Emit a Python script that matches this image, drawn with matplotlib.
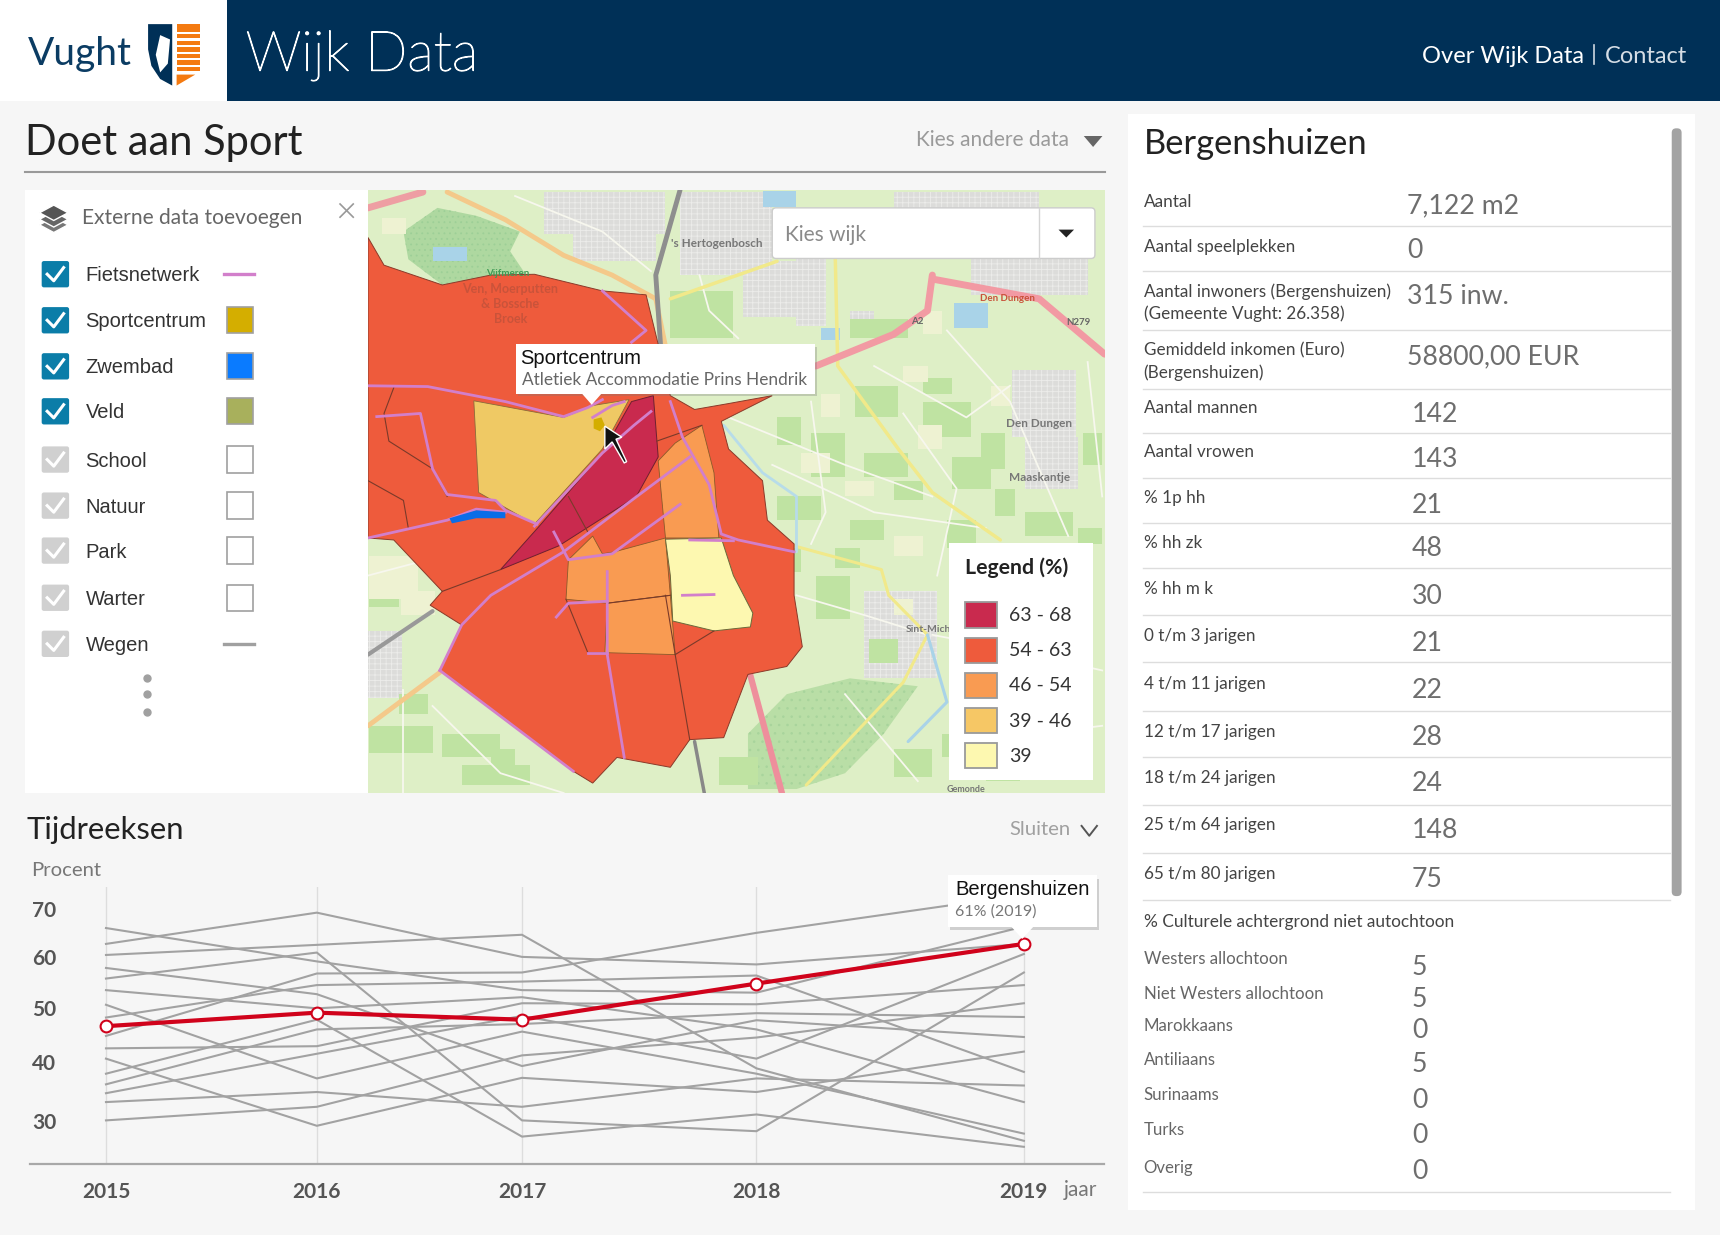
import numpy as np
import matplotlib
matplotlib.use("Agg")
import matplotlib.pyplot as plt
import matplotlib.patheffects as pe
from matplotlib.patches import Polygon, Rectangle, FancyBboxPatch

W, H = 1568, 1126
plt.rcParams["font.family"] = ["Lato", "DejaVu Sans"]
plt.rcParams["hatch.linewidth"] = 0.6

NAVY = "#003057"
GREY_TXT = "#6b6b6b"
PURPLE = "#d27fcb"

# time series, percent per year
YEARS = [2015, 2016, 2017, 2018, 2019]
GREY_SERIES = [
    [62.8, 69.3, 60.1, 58.6, 62.8],
    [66.1, 59.2, 53.5, 53.0, 66.4],
    [60.5, 62.6, 64.7, 38.9, 26.7],
    [57.9, 52.7, 39.3, 47.7, 44.6],
    [55.8, 61.0, 30.1, 28.3, 57.0],
    [53.5, 49.9, 52.1, 46.0, 33.2],
    [50.6, 37.2, 45.6, 38.0, 27.9],
    [48.2, 54.5, 55.2, 56.4, 38.3],
    [44.8, 56.8, 57.0, 65.1, 73.1],
    [42.5, 42.9, 50.9, 50.7, 54.5],
    [40.6, 29.2, 37.3, 34.9, 41.9],
    [38.0, 47.8, 27.4, 31.1, 25.7],
    [36.2, 46.0, 47.0, 49.0, 48.3],
    [34.7, 41.5, 48.5, 40.6, 60.7],
    [33.2, 34.9, 32.4, 37.2, 36.0],
    [30.1, 32.4, 41.2, 44.5, 50.9],
]
BERGENSHUIZEN = [46.6, 49.1, 47.8, 54.8, 62.8]
Y_TICKS = [30, 40, 50, 60, 70]

# right hand table
ROW_LABELS = ["Aantal", "Aantal speelplekken",
              "Aantal inwoners (Bergenshuizen)\n(Gemeente Vught: 26.358)",
              "Gemiddeld inkomen (Euro)\n(Bergenshuizen)",
              "Aantal mannen", "Aantal vrowen", "% 1p hh", "% hh zk", "% hh m k",
              "0 t/m 3 jarigen", "4 t/m 11 jarigen", "12 t/m 17 jarigen",
              "18 t/m 24 jarigen", "25 t/m 64 jarigen", "65 t/m 80 jarigen"]
ROW_VALUES = ["7,122 m2", "0", "315 inw.", "58800,00 EUR", "142", "143", "21", "48",
              "30", "21", "22", "28", "24", "148", "75"]
ROW_Y = [183, 224, 275, 329, 371, 411, 453, 494, 536, 579, 623, 666, 708, 751, 796]
VALUE_Y = [186, 227, 269, 324, 376, 417, 459, 499, 542, 585, 628, 671, 713, 756, 800]
SEP_Y = [206, 247, 301, 355, 395, 436, 477, 518, 561, 604, 648, 690, 734, 778, 821]
BG_LABELS = ["Westers allochtoon", "Niet Westers allochtoon", "Marokkaans", "Antiliaans",
             "Surinaams", "Turks", "Overig"]
BG_VALUES = ["5", "5", "0", "5", "0", "0", "0"]
BG_LABEL_Y = [874, 906, 935, 966, 998, 1030, 1064]
BG_VALUE_Y = [880, 909, 938, 969, 1001, 1033, 1066]

# layer list
LAYER_NAMES = ["Fietsnetwerk", "Sportcentrum", "Zwembad", "Veld", "School", "Natuur",
               "Park", "Warter", "Wegen"]
LAYER_Y = [250, 292, 334, 375, 419, 461, 502, 545, 587]
LAYER_ON = [True, True, True, True, False, False, False, False, False]
LAYER_SWATCH = ["line:" + PURPLE, "#d4ae00", "#0a7bff", "#a8b05c", "white", "white", "white",
                "white", "line:#a0a0a0"]

# map legend
LEGEND_LABELS = ["63 - 68", "54 - 63", "46 - 54", "39 - 46", "39"]
LEGEND_COLORS = ["#c92a4e", "#ee5b3c", "#f99b52", "#f6c765", "#fdf8b0"]

# map shapes, traced in map units
MUNICIPALITY = [(17, 145), (50, 215), (170, 265), (270, 240), (360, 238), (500, 280), (590, 290),
                (612, 400), (640, 545), (690, 580), (760, 565), (850, 545), (745, 610), (760, 680),
                (830, 760), (840, 860), (895, 920), (895, 1050), (912, 1180), (880, 1230),
                (800, 1250), (750, 1410), (680, 1415), (640, 1485), (530, 1460), (480, 1525),
                (440, 1495), (300, 1365), (165, 1240), (210, 1125), (145, 1075), (170, 1040),
                (70, 910), (17, 905)]
WIJK_YELLOW = [(235, 558), (420, 600), (480, 570), (555, 555), (500, 680), (360, 870), (245, 790)]
WIJK_DARK = [(605, 545), (615, 700), (570, 800), (410, 925), (290, 985), (370, 875), (500, 690),
             (560, 560)]
WIJK_ORANGE = [[(705, 620), (730, 740), (740, 905), (630, 905), (615, 710), (650, 665)],
               [(480, 900), (500, 945), (525, 940), (630, 905), (640, 1050), (510, 1070),
                (425, 1060), (430, 960)],
               [(510, 1070), (640, 1050), (650, 1200), (505, 1195)]]
WIJK_PALE = [(630, 908), (745, 905), (770, 1000), (810, 1095), (805, 1130), (730, 1140),
             (645, 1115), (640, 1000)]
SWIM_WATER = [(185, 855), (240, 835), (300, 840), (300, 855), (240, 855), (190, 868)]
SPORT_SPOT = [(482, 605), (498, 600), (505, 620), (495, 635), (482, 628)]
BORDERS = [[(70, 525), (50, 590), (60, 660), (150, 730), (180, 800)],
           [(17, 760), (90, 810), (100, 880)],
           [(630, 1050), (650, 1200), (680, 1415)],
           [(170, 1040), (290, 985)],
           [(425, 1060), (470, 1195), (505, 1195)],
           [(510, 1070), (640, 1050)],
           [(650, 1200), (730, 1140)],
           [(430, 800), (470, 890)],
           [(612, 660), (705, 620)]]
BIKE_PATHS = [[(17, 520), (140, 522), (300, 560), (420, 598), (470, 575), (500, 555)],
              [(500, 280), (590, 380), (560, 410)],
              [(35, 598), (125, 590), (150, 730), (180, 795), (280, 810), (300, 835), (365, 870)],
              [(17, 905), (180, 860), (240, 832), (300, 840)],
              [(165, 1240), (210, 1125), (270, 1050), (420, 940), (560, 810), (680, 700)],
              [(360, 875), (500, 690), (565, 620), (600, 585)],
              [(400, 890), (430, 960), (520, 945), (660, 820)],
              [(640, 560), (665, 650), (720, 770), (745, 895), (780, 910), (895, 940)],
              [(680, 910), (770, 912)],
              [(510, 990), (510, 1200), (545, 1460)],
              [(405, 1105), (430, 1070), (510, 1065)],
              [(470, 1195), (510, 1195)],
              [(165, 1240), (300, 1365), (440, 1495)],
              [(665, 1050), (730, 1048)],
              [(480, 600), (520, 570), (545, 560)]]
FOREST = [(90, 130), (160, 70), (240, 90), (330, 130), (310, 180), (340, 235), (270, 240), (170, 265), (100, 200)]
FOREST_SOUTH = [(880, 1300), (1010, 1260), (1150, 1280), (1080, 1400), (1000, 1500), (900, 1540), (800, 1540), (800, 1400)]
GREEN_BLOCKS = [(1020, 520, 90, 80), (1160, 560, 100, 90), (930, 640, 70, 110), (1040, 690, 90, 60),
                (1220, 700, 80, 80), (860, 800, 90, 60), (1010, 860, 70, 50), (1210, 860, 60, 70),
                (1370, 840, 100, 60), (940, 1000, 70, 110), (1050, 1160, 60, 60), (1230, 1290, 120, 70),
                (1360, 1380, 120, 90), (20, 1380, 130, 70), (170, 1400, 120, 60), (210, 1480, 140, 50),
                (1100, 1440, 80, 70), (1160, 500, 60, 40), (1280, 640, 50, 90), (740, 1460, 80, 70),
                (20, 1010, 60, 70), (640, 280, 130, 120), (1250, 1120, 90, 60), (1400, 1000, 100, 110),
                (1010, 350, 120, 50), (860, 600, 50, 70), (1100, 760, 60, 50), (1310, 780, 40, 70),
                (1490, 640, 40, 80), (1480, 880, 50, 40), (980, 930, 50, 50), (1290, 1440, 70, 80),
                (1200, 1400, 60, 60), (80, 1300, 60, 50), (270, 1440, 50, 50), (870, 930, 40, 60)]
PALE_BLOCKS = [(45, 95, 50, 40), (910, 690, 60, 50), (1150, 620, 50, 60), (1100, 900, 60, 50),
               (20, 950, 100, 110), (85, 1040, 70, 60), (1300, 520, 40, 50), (1240, 1000, 60, 60),
               (1160, 330, 40, 60), (800, 1040, 60, 70), (1000, 760, 60, 40), (1120, 470, 50, 40),
               (1420, 1290, 60, 50), (1100, 1060, 40, 40), (950, 540, 40, 60)]
URBAN_BLOCKS = [(380, 30, 250, 105), (440, 135, 170, 70), (660, 30, 190, 210), (790, 205, 130, 140),
                (900, 200, 60, 170), (1260, 180, 240, 110), (1345, 480, 130, 170), (1370, 650, 110, 130),
                (1040, 1040, 150, 220), (17, 1140, 70, 170), (1100, 30, 300, 40), (1010, 330, 50, 40)]
WATER_BLOCKS = [(150, 170, 70, 35), (1225, 310, 70, 65), (830, 28, 70, 40), (950, 375, 40, 30)]
MINOR_ROADS = [[(760, 600), (1000, 720), (1180, 800)], [(850, 720), (1060, 840), (1290, 880)],
               [(930, 560), (960, 840), (930, 920)], [(1210, 380), (1340, 560), (1460, 900)],
               [(1060, 470), (1250, 600), (1340, 520)], [(1120, 590), (1230, 780), (1190, 1000)],
               [(900, 1050), (1040, 1100), (1170, 1150)], [(1180, 1150), (1350, 1190), (1530, 1240)],
               [(1220, 1250), (1400, 1400), (1530, 1380)], [(90, 1290), (90, 1550)],
               [(150, 1330), (290, 1500), (420, 1550)], [(17, 1000), (140, 960)],
               [(700, 240), (720, 330), (780, 400)], [(1000, 1300), (1150, 1520)],
               [(1500, 460), (1530, 800)], [(320, 40), (500, 130), (600, 230)]]
ROADS = [([(17, 70), (130, 30)], "#ee9ea3", 5),
         ([(180, 30), (300, 100), (420, 190), (520, 240), (610, 300), (640, 480)], "#f4c98a", 3.5),
         ([(660, 25), (610, 240), (620, 420)], "#8e8e8e", 3.5),
         ([(640, 300), (860, 205)], "#f1e98a", 2.5),
         ([(980, 200), (985, 470), (1110, 680), (1180, 790), (1320, 910)], "#f1e98a", 2.5),
         ([(1180, 240), (1170, 330), (1100, 390), (940, 470)], "#f29aa3", 5),
         ([(1180, 250), (1400, 300), (1535, 440)], "#f29aa3", 5),
         ([(800, 1230), (870, 1550)], "#ee8f9c", 4.5),
         ([(690, 1420), (710, 1550)], "#888888", 2.5),
         ([(895, 925), (1075, 985), (1090, 1050), (1170, 1150), (1120, 1270), (920, 1530)], "#f1e98a", 2.2),
         ([(17, 1200), (150, 1090)], "#999999", 3),
         ([(17, 1380), (165, 1245)], "#f4c98a", 3.5),
         ([(750, 620), (830, 740), (900, 800), (900, 940)], "#b7dce9", 2),
         ([(1170, 1150), (1210, 1320), (1130, 1420)], "#a9d3e8", 2.2)]
MAP_LABELS = [("'s Hertogenbosch", 735, 160, 8.5, "#777777"), ("Den Dungen", 1400, 615, 8.5, "#777777"),
              ("Maaskantje", 1400, 752, 8.5, "#777777"), ("Ven, Moerputten", 310, 275, 9, "#c9533a"),
              ("& Bossche", 310, 312, 9, "#c9533a"), ("Broek", 310, 350, 9, "#c9533a"),
              ("N279", 1480, 360, 7, "#666666"), ("A2", 1148, 358, 7, "#666666"),
              ("Sint-Mich", 1172, 1137, 7.5, "#777777"), ("Den Dungen", 1335, 300, 7, "#c9533a"),
              ("Vijfmeren", 305, 237, 7, "#3f9a55"), ("Gemonde", 1250, 1540, 6.5, "#777777")]


def ax_at(x0, y0, x1, y1, **kw):
    return fig.add_axes([x0 / W, 1 - y1 / H, (x1 - x0) / W, (y1 - y0) / H], **kw)


def box(ax, x0, y0, x1, y1, fc, ec="none", lw=0, z=1, pad=0.0):
    if pad:
        p = FancyBboxPatch((x0, y0), x1 - x0, y1 - y0, boxstyle=f"round,pad=0,rounding_size={pad}",
                           fc=fc, ec=ec, lw=lw, zorder=z)
    else:
        p = Rectangle((x0, y0), x1 - x0, y1 - y0, fc=fc, ec=ec, lw=lw, zorder=z)
    ax.add_patch(p)
    return p


def put(x, y, s, **kw):
    # Lato sits a little high when centred
    return bg.text(x, y + 2, s, va="center", **kw)


fig = plt.figure(figsize=(17.2, 12.35), dpi=100, facecolor="#f6f6f6")

# page furniture lives in one axes in screen units
bg = ax_at(0, 0, W, H)
bg.set_xlim(0, W); bg.set_ylim(H, 0); bg.axis("off")

box(bg, 207, 0, W, 92, NAVY)
box(bg, 0, 0, 207, 92, "white")
put(25, 47.5, "Vught", fontsize=28, color="#0b3c63")
t = put(224, 48.5, "Wijk Data", fontsize=40, color="white", fontweight="light")
t.set_path_effects([pe.withStroke(linewidth=0.8, foreground="white")])
put(1296, 49.5, "Over Wijk Data", fontsize=17, color="white")
bg.plot([1453, 1453], [41, 58], color="#cfd8e0", lw=1.2)
put(1463, 49.5, "Contact", fontsize=17, color="#d5dde5")
# shield
bg.add_patch(Polygon([(135, 22), (157, 22), (157, 78), (146, 72), (138, 60), (135, 45)], fc=NAVY))
for yy in (22, 31, 37, 43, 49, 55, 61):
    box(bg, 161, yy, 182, yy + (7 if yy == 22 else 4), "#f47a10", z=2)
bg.add_patch(Polygon([(161, 68), (178, 68), (161, 78)], fc="#f47a10", zorder=2))
bg.add_patch(Polygon([(146, 32), (155, 36), (153, 58), (146, 66), (142, 50)], fc="white", zorder=2))

put(23, 128.5, "Doet aan Sport", fontsize=30, color="#222222")
put(835, 126, "Kies andere data", fontsize=15, color="#9a9a9a")
bg.add_patch(Polygon([(988, 124), (1005, 124), (996.5, 134)], fc="#666666"))
bg.plot([23, 1007], [157, 157], color="#999999", lw=1.5)

# layer panel
box(bg, 23, 173, 336, 723, "white")
for dy, col in zip((8, 3, -3), ("#777777", "#666666", "#555555")):
    bg.add_patch(Polygon([(36, 197 + dy), (49, 190 + dy), (62, 197 + dy), (49, 204 + dy)],
                         fc=col, ec="white", lw=1))
put(75, 196.5, "Externe data toevoegen", fontsize=15.1, color="#666666")
bg.plot([310, 322], [186, 198], color="#999999", lw=1.2)
bg.plot([310, 322], [198, 186], color="#999999", lw=1.2)
for name, yy, on, sw in zip(LAYER_NAMES, LAYER_Y, LAYER_ON, LAYER_SWATCH):
    box(bg, 38, yy - 12, 63, yy + 12, "#0b7da8" if on else "#d0d0d0", pad=2, z=2)
    bg.plot([43, 49, 58], [yy, yy + 6, yy - 6], color="white", lw=2.2, zorder=3)
    bg.text(78, yy + 1.5, name, fontsize=14.5, color="#333333", va="center", family="Liberation Sans")
    if sw.startswith("line:"):
        bg.plot([204, 232], [yy, yy], color=sw[5:], lw=2.4)
    else:
        box(bg, 207, yy - 12, 231, yy + 12, sw, ec="#a0a0a0", lw=1.2, z=2)
for yy in (618, 633, 649):
    bg.plot([134], [yy], "o", color="#a0a0a0", ms=5)

# right panel
box(bg, 1028, 104, 1545, 1103, "white")
box(bg, 1524, 117, 1533, 817, "#a3a3a3", pad=4, z=2)
put(1043, 129, "Bergenshuizen", fontsize=24.8, color="#222222")
for lab, val, ly, vy, sy in zip(ROW_LABELS, ROW_VALUES, ROW_Y, VALUE_Y, SEP_Y):
    put(1042.5, ly - 1, lab, fontsize=12.3, color="#444444", linespacing=1.42)
    vx = 1287 if ly > 340 else 1283
    put(vx, vy - 0.5, val, fontsize=19.2, color="#6e6e6e")
    bg.plot([1042, 1522], [sy, sy], color="#dddddd", lw=1)
put(1042.5, 839, "% Culturele achtergrond niet autochtoon", fontsize=12.4, color="#444444")
for lab, val, ly, vy in zip(BG_LABELS, BG_VALUES, BG_LABEL_Y, BG_VALUE_Y):
    put(1042.5, ly - 1.5, lab, fontsize=12.1, color="#666666")
    put(1287, vy, val, fontsize=19.2, color="#6e6e6e")
bg.plot([1042, 1522], [1087, 1087], color="#dddddd", lw=1)

# lower chart headings
put(24, 755, "Tijdreeksen", fontsize=22.3, color="#222222")
put(920, 754, "Sluiten", fontsize=14.6, color="#a0a0a0")
bg.plot([986, 993, 1000], [753, 762, 753], color="#555555", lw=1.4)
put(28, 791.5, "Procent", fontsize=14.6, color="#777777")
put(970, 1083, "jaar", fontsize=15, color="#777777")

# map
m = ax_at(335.5, 173.3, 1007, 723, zorder=1)
m.set_xlim(17, 1535); m.set_ylim(1550, 25); m.axis("off")
m.add_patch(Rectangle((17, 25), 1518, 1525, fc="#deefc6", zorder=0))
for x, y, w, h in URBAN_BLOCKS:
    m.add_patch(Rectangle((x, y), w, h, fc="#dcdcda", ec="#ececea", hatch="+++", lw=0, zorder=1))
m.add_patch(Polygon(FOREST, fc="#aed8a0", ec="#9dcf97", hatch="...", lw=0, zorder=1))
m.add_patch(Polygon(FOREST_SOUTH, fc="#b9dea6", ec="#a8d49c", hatch="..", lw=0, zorder=1))
for blocks, col in ((GREEN_BLOCKS, "#bfe3a2"), (PALE_BLOCKS, "#eef2d2"), (WATER_BLOCKS, "#a9d3e8")):
    for x, y, w, h in blocks:
        m.add_patch(Rectangle((x, y), w, h, fc=col, ec="none", zorder=1))
for pts in MINOR_ROADS:
    xs, ys = zip(*pts)
    m.plot(xs, ys, color="#f7f7ee", lw=1.3, zorder=2)
for pts, col, lw in ROADS:
    xs, ys = zip(*pts)
    m.plot(xs, ys, color=col, lw=lw, zorder=2, solid_capstyle="round")
for txt, x, y, fs, col in MAP_LABELS:
    m.text(x, y, txt, fontsize=fs, color=col, ha="center", va="center", zorder=6, fontweight="bold")
m.add_patch(Polygon(MUNICIPALITY, fc=LEGEND_COLORS[1], ec="#8a3a2a", lw=0.7, zorder=3))
m.add_patch(Polygon(WIJK_YELLOW, fc="#efc964", ec="#8a6a3a", lw=0.6, zorder=4))
m.add_patch(Polygon(WIJK_DARK, fc=LEGEND_COLORS[0], ec="#6e2030", lw=0.7, zorder=4))
for shape in WIJK_ORANGE:
    m.add_patch(Polygon(shape, fc=LEGEND_COLORS[2], ec="#8a5a2a", lw=0.6, zorder=4))
m.add_patch(Polygon(WIJK_PALE, fc=LEGEND_COLORS[4], ec="#6a6a3a", lw=0.7, zorder=4))
for pts in BORDERS:
    xs, ys = zip(*pts)
    m.plot(xs, ys, color="#7a3a2a", lw=0.8, zorder=4)
for pts in BIKE_PATHS:
    xs, ys = zip(*pts)
    m.plot(xs, ys, color=PURPLE, lw=2, zorder=5)
m.add_patch(Polygon(SWIM_WATER, fc="#0a6de8", zorder=6))
m.add_patch(Polygon(SPORT_SPOT, fc="#d4ae00", zorder=6))
# cursor
m.add_patch(Polygon([(505, 622), (505, 680), (520, 662), (545, 715), (550, 712), (528, 655), (540, 650)],
                    fc="#111111", ec="white", lw=1, zorder=9))
# tooltip on map
m.add_patch(Rectangle((326, 422), 616, 125, fc="#777777", alpha=0.3, zorder=7))
m.add_patch(Rectangle((322, 415), 616, 125, fc="white", zorder=8))
m.add_patch(Polygon([(458, 540), (498, 540), (478, 568)], fc="white", zorder=8))
m.text(330, 452, "Sportcentrum", fontsize=14.5, color="#111111", va="center", family="Liberation Sans", zorder=9)
m.text(334, 506, "Atletiek Accommodatie Prins Hendrik", fontsize=12.4, color="#666666", va="center", zorder=9)
# wijk picker
m.add_patch(FancyBboxPatch((850, 70), 665, 128, boxstyle="round,pad=0,rounding_size=8", fc="white",
                           ec="#cccccc", lw=1, zorder=8, mutation_aspect=1.2))
m.plot([1400, 1400], [70, 198], color="#d5d5d5", lw=1, zorder=9)
m.add_patch(Polygon([(1440, 125), (1472, 125), (1456, 145)], fc="#222222", zorder=9))
m.text(876, 138, "Kies wijk", fontsize=15, color="#8a8a8a", va="center", zorder=9)
# legend
m.add_patch(Rectangle((1215, 918), 297, 600, fc="white", zorder=8))
m.text(1248, 980, "Legend (%)", fontsize=15.3, fontweight="bold", color="#222222", va="center", zorder=9)
for i, (lab, col) in enumerate(zip(LEGEND_LABELS, LEGEND_COLORS)):
    yy = 1100 + i * 89
    m.add_patch(Rectangle((1248, yy - 32), 66, 64, fc=col, ec="#9a9a9a", lw=1.3, zorder=9))
    m.text(1338, yy + 1, lab, fontsize=14, color="#333333", va="center", zorder=9)

# time series chart, the source spaces its axes unevenly
year_anchor = [2014, 2015, 2016, 2017, 2018, 2019, 2020]
year_pos = [-105.0, 105.7, 316.4, 521.4, 755.7, 1022.9, 1290.0]
val_anchor = [10, 30, 40, 50, 60, 70, 90]
val_pos = [-1322.0, -962.0, -785.0, -623.0, -472.0, -328.0, -48.0]

c = ax_at(27.4, 809, 1006.5, 1061.5, zorder=1)
c.patch.set_alpha(0)
c.set_xscale("function", functions=(lambda v: np.interp(v, year_anchor, year_pos),
                                    lambda v: np.interp(v, year_pos, year_anchor)))
c.set_yscale("function", functions=(lambda v: np.interp(v, val_anchor, val_pos),
                                    lambda v: np.interp(v, val_pos, val_anchor)))
for s in GREY_SERIES:
    c.plot(YEARS, s, color="#a2a2a2", lw=1.5, zorder=2)
c.plot(YEARS, BERGENSHUIZEN, color="#d0021b", lw=3, zorder=3, marker="o", ms=8.5,
       mfc="white", mec="#d0021b", mew=1.5)
c.set_xlim(2014.64, 2019.30)
c.set_ylim(22.8, 74.7)
c.set_xticks(YEARS, [str(y) for y in YEARS])
c.set_yticks(Y_TICKS, [str(y) for y in Y_TICKS])
c.minorticks_off()
c.grid(axis="x", color="#dddddd", lw=1, zorder=1)
c.tick_params(axis="both", length=0, labelsize=15, labelcolor="#555555")
c.tick_params(axis="y", pad=-19)
c.tick_params(axis="x", pad=12.5)
for lab in c.get_xticklabels() + c.get_yticklabels():
    lab.set_fontweight("bold")
for side in ("top", "left", "right"):
    c.spines[side].set_visible(False)
c.spines["bottom"].set_color("#a8a8a8")
c.spines["bottom"].set_linewidth(1.6)

# tooltip on chart, above the lines
top = ax_at(0, 0, W, H, zorder=3)
top.set_xlim(0, W); top.set_ylim(H, 0); top.axis("off")
box(top, 866, 801, 1002, 848, "#777777").set_alpha(0.3)
box(top, 864, 798, 1000, 845, "white", z=2)
top.add_patch(Polygon([(922, 845), (942, 845), (932, 856)], fc="white", zorder=2))
top.text(871, 811, "Bergenshuizen", fontsize=14.5, color="#111111", va="center", zorder=3,
         family="Liberation Sans")
top.text(871, 831, "61% (2019)", fontsize=11.5, color="#777777", va="center", zorder=3)

fig.savefig("out.png", dpi=100, facecolor=fig.get_facecolor())
